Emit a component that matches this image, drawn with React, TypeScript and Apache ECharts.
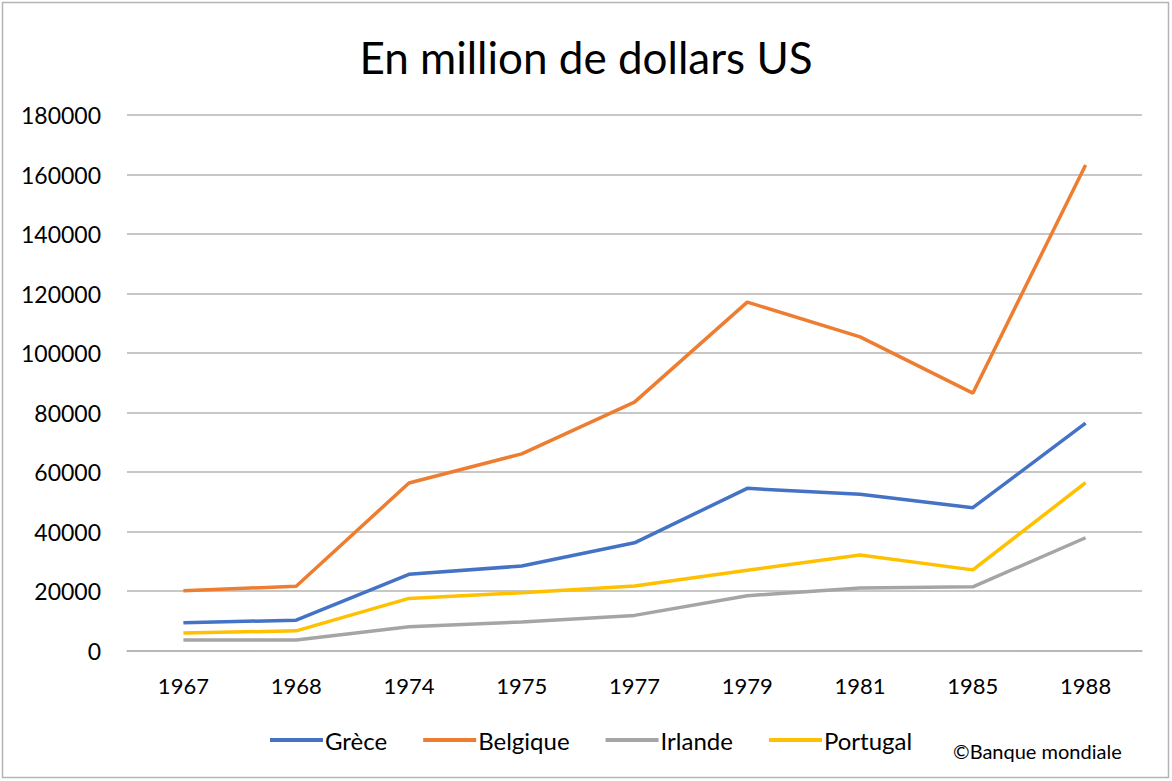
import React, { useEffect, useRef } from "react";
import * as echarts from "echarts";

const years = ["1967", "1968", "1974", "1975", "1977", "1979", "1981", "1985", "1988"];
const grece = [9300, 10200, 25600, 28400, 36200, 54500, 52500, 48000, 76400];
const belgique = [20100, 21600, 56300, 66100, 83500, 117100, 105400, 86500, 163200];
const irlande = [3500, 3500, 8000, 9600, 11800, 18400, 21000, 21400, 37900];
const portugal = [5900, 6600, 17500, 19400, 21700, 27000, 32100, 27100, 56400];

const FONT = "Lato";

export default function App() {
  const ref = useRef<HTMLDivElement>(null);
  useEffect(() => {
    if (!ref.current) return;
    const chart = echarts.init(ref.current, null, { renderer: "svg" });
    const mk = (name: string, data: number[], color: string) => ({
      name,
      type: "line",
      data,
      showSymbol: false,
      symbol: "none",
      lineStyle: { color, width: 3.5 },
      itemStyle: { color },
    });
    chart.setOption({
      animation: false,
      backgroundColor: "#fff",
      textStyle: { fontFamily: FONT },
      title: {
        text: "En million de dollars US",
        left: "center",
        top: 30,
        textStyle: { fontFamily: FONT, fontSize: 44, fontWeight: "normal", color: "#000" },
      },
      grid: { left: 127, right: 30, top: 115, bottom: 130.5, containLabel: false },
      xAxis: {
        type: "category",
        data: years,
        boundaryGap: true,
        axisLine: { show: true, lineStyle: { color: "#b4b4b4", width: 1.5 } },
        axisTick: { show: false },
        axisLabel: { color: "#000", fontSize: 22, fontFamily: FONT, margin: 24 },
      },
      yAxis: {
        type: "value",
        min: 0,
        max: 180000,
        interval: 20000,
        axisLine: { show: false },
        axisTick: { show: false },
        axisLabel: {
          color: "#000",
          fontSize: 23,
          fontFamily: FONT,
          margin: 26,
          formatter: (v: number) => String(v),
        },
        splitLine: { lineStyle: { color: "#b4b4b4", width: 1.5 } },
      },
      legend: {
        left: 265,
        top: 723,
        icon: "rect",
        itemWidth: 53,
        itemHeight: 4,
        itemGap: 36,
        textStyle: { color: "#000", fontSize: 24, fontFamily: FONT, padding: [0, 0, 0, -3] },
        data: ["Grèce", "Belgique", "Irlande", "Portugal"],
      },
      graphic: [
        {
          type: "rect",
          shape: { x: 2.5, y: 2.5, width: 1166, height: 775 },
          style: { fill: "none", stroke: "#b4b4b4", lineWidth: 1.5 },
          silent: true,
        },
        {
          type: "text",
          left: 953,
          top: 741,
          style: { text: "©Banque mondiale", fill: "#000", font: `20px ${FONT}` },
        },
      ],
      series: [
        mk("Grèce", grece, "#4472C4"),
        mk("Belgique", belgique, "#ED7D31"),
        mk("Irlande", irlande, "#A5A5A5"),
        mk("Portugal", portugal, "#FFC000"),
      ],
    });
    return () => chart.dispose();
  }, []);
  return (
    <div
      ref={ref}
      style={{ position: "absolute", left: 0, top: 0, width: 1172, height: 781 }}
    />
  );
}
